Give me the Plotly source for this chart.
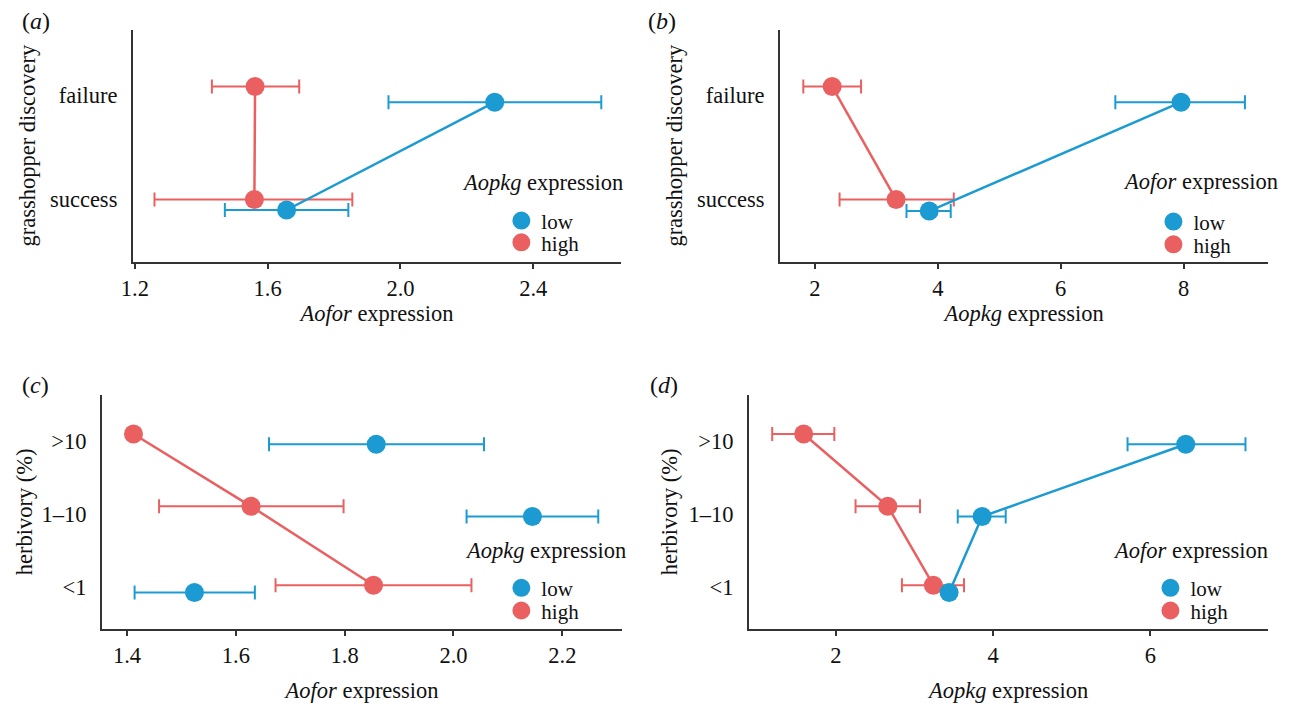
import plotly.graph_objects as go

# ---------------- data ----------------
# panels (a),(b): y categories, bottom -> top
disc_cats = ["success", "failure"]
# panels (c),(d)
herb_cats = ["<1", "1–10", ">10"]

# (a) x = Aofor expression, grouped by Aopkg expression
a_low_x = [1.657, 2.284]
a_low_y = [-0.10, 0.93]
a_low_lo = [1.471, 1.964]
a_low_hi = [1.843, 2.605]
a_high_x = [1.560, 1.562]
a_high_y = [0.00, 1.08]
a_high_lo = [1.259, 1.432]
a_high_hi = [1.855, 1.695]

# (b) x = Aopkg expression, grouped by Aofor expression
b_low_x = [3.86, 7.96]
b_low_y = [-0.11, 0.93]
b_low_lo = [3.49, 6.89]
b_low_hi = [4.21, 9.00]
b_high_x = [3.32, 2.28]
b_high_y = [0.00, 1.08]
b_high_lo = [2.40, 1.81]
b_high_hi = [4.26, 2.75]

# (c) x = Aofor expression, grouped by Aopkg expression
c_low_x = [1.524, 2.145, 1.858]
c_low_y = [-0.07, 0.97, 1.96]
c_low_lo = [1.414, 2.024, 1.661]
c_low_hi = [1.635, 2.266, 2.056]
c_high_x = [1.853, 1.628, 1.412]
c_high_y = [0.03, 1.11, 2.10]
c_high_lo = [1.673, 1.459, None]
c_high_hi = [2.033, 1.798, None]

# (d) x = Aopkg expression, grouped by Aofor expression
d_low_x = [3.44, 3.86, 6.45]
d_low_y = [-0.07, 0.97, 1.96]
d_low_lo = [None, 3.55, 5.71]
d_low_hi = [None, 4.16, 7.21]
d_high_x = [3.24, 2.66, 1.59]
d_high_y = [0.03, 1.11, 2.10]
d_high_lo = [2.84, 2.25, 1.19]
d_high_hi = [3.63, 3.07, 1.98]

series_names = ["low", "high"]

# ---------------- styling ----------------
BLUE = "#1b9bd1"
RED = "#ea6061"
AXC = "#333333"
FONT = "Liberation Serif, 'Times New Roman', Times, serif"
FS = 22.5
PAGE_MARGIN = 8
W, H = 1290 - 2 * PAGE_MARGIN, 711 - 2 * PAGE_MARGIN


def px_x(v):
    v = (v - 10) / 0.992
    return max(0.0, (v - PAGE_MARGIN) / W)


def px_y(v):
    return 1 - (v - PAGE_MARGIN) / H


fig = go.Figure()


def err(x, lo, hi):
    plus, minus = [], []
    for xv, l, h in zip(x, lo, hi):
        plus.append(None if h is None else h - xv)
        minus.append(None if l is None else xv - l)
    return plus, minus


def add_series(x, y, lo, hi, color, xa, ya, lines=True):
    plus, minus = err(x, lo, hi)
    fig.add_trace(go.Scatter(
        x=x, y=y, xaxis=xa, yaxis=ya,
        mode="lines+markers" if lines else "markers",
        line=dict(color=color, width=2.5),
        marker=dict(color=color, size=19),
        error_x=dict(type="data", symmetric=False, array=plus, arrayminus=minus,
                     color=color, thickness=2, width=7),
        showlegend=False, hoverinfo="x+y",
    ))


def add_legend(legend_ids, xa, ya):
    for name, color, lid in zip(series_names, [BLUE, RED], legend_ids):
        fig.add_trace(go.Scatter(
            x=[None], y=[None], xaxis=xa, yaxis=ya, mode="markers",
            marker=dict(color=color, size=19, line=dict(color=color, width=2)),
            name=name, legend=lid, showlegend=True,
        ))


# draw high first, low on top
add_series(a_high_x, a_high_y, a_high_lo, a_high_hi, RED, "x", "y")
add_series(a_low_x, a_low_y, a_low_lo, a_low_hi, BLUE, "x", "y")
add_legend(["legend", "legend2"], "x", "y")

add_series(b_high_x, b_high_y, b_high_lo, b_high_hi, RED, "x2", "y2")
add_series(b_low_x, b_low_y, b_low_lo, b_low_hi, BLUE, "x2", "y2")
add_legend(["legend3", "legend4"], "x2", "y2")

add_series(c_high_x, c_high_y, c_high_lo, c_high_hi, RED, "x3", "y3")
add_series(c_low_x, c_low_y, c_low_lo, c_low_hi, BLUE, "x3", "y3", lines=False)
add_legend(["legend5", "legend6"], "x3", "y3")

add_series(d_high_x, d_high_y, d_high_lo, d_high_hi, RED, "x4", "y4")
add_series(d_low_x, d_low_y, d_low_lo, d_low_hi, BLUE, "x4", "y4")
add_legend(["legend7", "legend8"], "x4", "y4")


def xax(domain_px, rng, dtick, fmt, title, anchor, standoff):
    return dict(
        domain=[px_x(domain_px[0]), px_x(domain_px[1])], range=rng, anchor=anchor,
        showline=True, linecolor=AXC, linewidth=2, mirror=False,
        ticks="outside", ticklen=5, tickwidth=2, tickcolor=AXC,
        tick0=0, dtick=dtick, tickformat=fmt, showgrid=False, zeroline=False,
        tickfont=dict(family=FONT, size=FS, color="#111"),
        ticklabelstandoff=0,
        title=dict(text=title, font=dict(family=FONT, size=FS, color="#111"), standoff=standoff),
    )


def yax(domain_px, rng, cats, title, anchor, standoff):
    return dict(
        domain=[px_y(domain_px[1]), px_y(domain_px[0])], range=rng, anchor=anchor,
        showline=True, linecolor=AXC, linewidth=2,
        ticks="", tickvals=list(range(len(cats))), ticktext=cats,
        showgrid=False, zeroline=False,
        tickfont=dict(family=FONT, size=FS, color="#111"),
        ticklabelstandoff=9,
        title=dict(text=title, font=dict(family=FONT, size=FS, color="#111"), standoff=standoff),
    )


fig.update_layout(
    width=W, height=H, margin=dict(l=0, r=0, t=0, b=0),
    paper_bgcolor="white", plot_bgcolor="white",
    font=dict(family=FONT, size=FS, color="#111"),
    xaxis=xax((131, 620), [1.194, 2.665], 0.4, ".1f", "<i>Aofor</i> expression", "y", 6),
    yaxis=yax((30, 265), [-0.594, 1.623], disc_cats, "grasshopper discovery", "x", 8),
    xaxis2=xax((779, 1268), [1.43, 9.38], 2, "d", "<i>Aopkg</i> expression", "y2", 6),
    yaxis2=yax((30, 265), [-0.594, 1.623], disc_cats, "grasshopper discovery", "x2", 8),
    xaxis3=xax((100, 621), [1.354, 2.31], 0.2, ".1f", "<i>Aofor</i> expression", "y3", 19),
    yaxis3=yax((400, 637), [-0.567, 2.635], herb_cats, "herbivory (%)", "x3", 3),
    xaxis4=xax((748, 1268), [0.895, 7.5], 2, "d", "<i>Aopkg</i> expression", "y4", 19),
    yaxis4=yax((400, 637), [-0.567, 2.635], herb_cats, "herbivory (%)", "x4", 5),
)

leg_common = dict(xanchor="left", yanchor="top", bgcolor="rgba(0,0,0,0)",
                  font=dict(family=FONT, size=21, color="#111"), tracegroupgap=0)
legend_spots = {
    "legend": (500, 203), "legend2": (500, 225),
    "legend3": (1153, 204), "legend4": (1153, 227),
    "legend5": (500, 575), "legend6": (500, 598),
    "legend7": (1150, 575), "legend8": (1150, 598),
}
fig.update_layout(**{k: dict(x=px_x(x), y=px_y(y), **leg_common)
                     for k, (x, y) in legend_spots.items()})

ann = []
for txt, x, y in [("(<i>a</i>)", 18, 21), ("(<i>b</i>)", 645, 21),
                  ("(<i>c</i>)", 18, 390), ("(<i>d</i>)", 647, 390)]:
    ann.append(dict(text=txt, x=px_x(x), y=px_y(y), xref="paper", yref="paper",
                    xanchor="left", yanchor="middle", showarrow=False,
                    font=dict(family=FONT, size=24, color="#111")))
for txt, xr, y in [("<i>Aopkg</i> expression", 624, 185), ("<i>Aofor</i> expression", 1280, 184),
                   ("<i>Aopkg</i> expression", 627, 558), ("<i>Aofor</i> expression", 1270, 558)]:
    ann.append(dict(text=txt, x=px_x(xr), y=px_y(y), xref="paper", yref="paper",
                    xanchor="right", yanchor="middle", showarrow=False,
                    font=dict(family=FONT, size=FS, color="#111")))
fig.update_layout(annotations=ann)

fig.write_html("out.html")
